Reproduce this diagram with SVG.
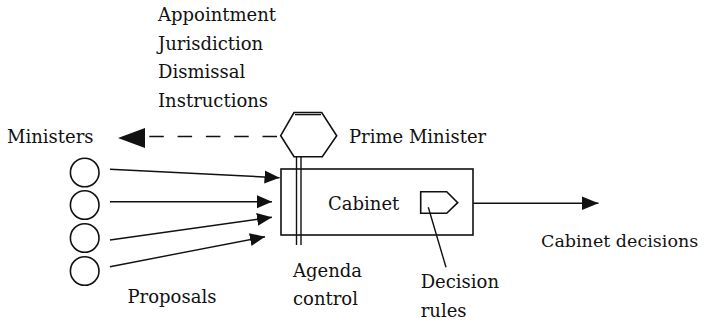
<svg xmlns="http://www.w3.org/2000/svg" width="705" height="323" viewBox="0 0 705 323">
<style>
text{font-family:"DejaVu Serif","Liberation Serif",serif;font-size:18px;fill:#111}
.ln{stroke:#111;fill:none;stroke-width:1.4}
.sh{stroke:#111;fill:#fff;stroke-width:1.6}
</style>
<defs>
<marker id="ah" markerUnits="userSpaceOnUse" markerWidth="16" markerHeight="14" refX="15" refY="6.5" orient="auto">
<path d="M0,0 L15,6.5 L0,13 Z" fill="#111"/>
</marker>
<marker id="ahb" markerUnits="userSpaceOnUse" markerWidth="18" markerHeight="15" refX="17" refY="7" orient="auto">
<path d="M0,0 L17,7 L0,14 Z" fill="#111"/>
</marker>
</defs>
<g id="labels-pm">
<text x="158" y="21">Appointment</text>
<text x="158" y="49.5">Jurisdiction</text>
<text x="158" y="78">Dismissal</text>
<text x="158" y="106.5">Instructions</text>
</g>
<g id="connectors">
<line class="ln" x1="277" y1="136.5" x2="146" y2="136.5" stroke-dasharray="14.5 13.8"/>
<path d="M118,138 L145,128 L145,148 Z" fill="#111"/>
<line class="ln" x1="110" y1="169.3" x2="279.5" y2="177.7" marker-end="url(#ah)"/>
<line class="ln" x1="110" y1="201.7" x2="272" y2="201.7" marker-end="url(#ah)"/>
<line class="ln" x1="110" y1="240" x2="272" y2="217.3" marker-end="url(#ah)"/>
<line class="ln" x1="110" y1="266.7" x2="265" y2="236.7" marker-end="url(#ah)"/>
<line class="ln" x1="473" y1="203.3" x2="598.5" y2="203.3" stroke-width="2" marker-end="url(#ahb)"/>
</g>
<g id="cabinet">
<rect class="sh" x="281" y="169" width="192" height="66"/>
<text x="328" y="210">Cabinet</text>
</g>
<g id="prime-minister">
<polygon class="sh" stroke-width="2.4" points="294,112.5 321.7,112.5 336.7,135.7 322.3,156.7 294,156.7 280.7,135.7"/>
<line class="ln" x1="295" y1="114.6" x2="321" y2="114.6" stroke-width="1"/>
<line class="ln" x1="296.5" y1="157" x2="296.5" y2="245"/>
<line class="ln" x1="301" y1="157" x2="301" y2="245"/>
<text x="349" y="143.3">Prime Minister</text>
</g>
<g id="ministers">
<text x="7" y="143.3">Ministers</text>
<circle class="sh" cx="84.7" cy="172.5" r="14.3"/>
<circle class="sh" cx="84.7" cy="205" r="14.3"/>
<circle class="sh" cx="84.7" cy="238" r="14.3"/>
<circle class="sh" cx="84.7" cy="271" r="14.3"/>
<text x="127.5" y="303.3">Proposals</text>
</g>
<g id="decision-rules">
<polygon class="sh" points="420.7,191.7 446.7,191.7 457.7,202.7 446.7,213.3 420.7,213.3"/>
<line class="ln" x1="428.3" y1="207.3" x2="446" y2="267.3" stroke-width="1.2"/>
<text x="420.7" y="288.3">Decision</text>
<text x="420.7" y="316.7">rules</text>
</g>
<g id="agenda-control">
<text x="293" y="276.7">Agenda</text>
<text x="293" y="305.2">control</text>
</g>
<g id="output">
<text x="541" y="246.7" style="font-size:17.5px">Cabinet decisions</text>
</g>
</svg>
